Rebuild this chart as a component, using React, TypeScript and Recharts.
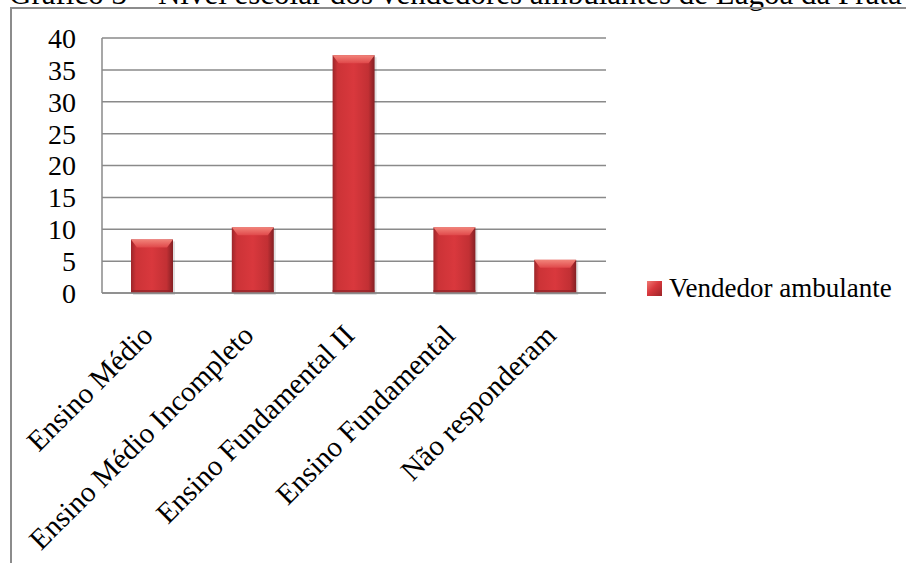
import React from 'react';
import { BarChart, Bar, XAxis, YAxis, CartesianGrid, Legend } from 'recharts';

// ── data ────────────────────────────────────────────────────
const categories = [
  'Ensino Médio',
  'Ensino Médio Incompleto',
  'Ensino Fundamental II',
  'Ensino Fundamental',
  'Não responderam',
];
const vendedorValues = [8.4, 10.3, 37.3, 10.3, 5.2];
const yTicks = [0, 5, 10, 15, 20, 25, 30, 35, 40];
const seriesName = 'Vendedor ambulante';
const titleText = 'Gráfico 3 – Nível escolar dos vendedores ambulantes de Lagoa da Prata';

const chartData = categories.map((name, i) => ({ name, [seriesName]: vendedorValues[i] }));

const SERIF = '"Liberation Serif", "Times New Roman", Times, serif';
const GRID = '#8a8a8a';

// bar with the Excel-like bevel
const BevelBar = ({ x, y, width, height }: any) => {
  if (!height || height <= 0) return null;
  const b = Math.min(8, height / 2);
  return (
    <g>
      <rect x={x + 2} y={y + 2} width={width} height={height} fill="rgba(0,0,0,0.12)" />
      <rect x={x} y={y} width={width} height={height} fill="url(#barBody)" />
      <polygon
        points={`${x},${y} ${x + width},${y} ${x + width - 6},${y + b} ${x + 6},${y + b}`}
        fill="url(#barTop)"
      />
      <rect x={x} y={y + height - 3} width={width} height={3} fill="#8e2428" opacity={0.7} />
    </g>
  );
};

const XTick = ({ x, y, payload }: any) => {
  const tx = x + 2;
  const ty = y + 44;
  return (
    <text
      x={tx}
      y={ty}
      transform={`rotate(-45 ${tx} ${ty})`}
      textAnchor="end"
      fontFamily={SERIF}
      fontSize={29}
      fill="#000"
    >
      {payload.value}
    </text>
  );
};

const LegendBox = () => (
  <div style={{ display: 'flex', alignItems: 'center', fontFamily: SERIF, fontSize: 27, color: '#000', whiteSpace: 'nowrap' }}>
    <span
      style={{
        display: 'inline-block', width: 15, height: 15, marginRight: 7,
        background: 'linear-gradient(135deg, #f07a74 0%, #d8383d 45%, #9c2428 100%)',
      }}
    />
    {seriesName}
  </div>
);

export default function App() {
  return (
    <div style={{ position: 'absolute', left: 0, top: 0, width: 906, height: 563, overflow: 'hidden', background: '#fff' }}>
      <div
        style={{
          position: 'absolute', left: 9, top: -22, fontFamily: SERIF, fontSize: 31,
          lineHeight: '31px', whiteSpace: 'nowrap', color: '#000',
        }}
      >
        {titleText}
      </div>
      <div
        style={{
          position: 'absolute', left: 10, top: 7, width: 1000, height: 1000,
          borderTop: '2px solid #8c8c8c', borderLeft: '2px solid #8c8c8c',
        }}
      />
      <div style={{ position: 'absolute', left: 0, top: 0 }}>
        <BarChart
          width={906}
          height={563}
          data={chartData}
          margin={{ top: 38, right: 300, bottom: 0, left: 0 }}
          barSize={42}
        >
          <defs>
            <linearGradient id="barBody" x1="0" y1="0" x2="1" y2="0">
              <stop offset="0%" stopColor="#9c262a" />
              <stop offset="12%" stopColor="#cc3337" />
              <stop offset="50%" stopColor="#d9383d" />
              <stop offset="85%" stopColor="#c23034" />
              <stop offset="100%" stopColor="#842024" />
            </linearGradient>
            <linearGradient id="barTop" x1="0" y1="0" x2="0" y2="1">
              <stop offset="0%" stopColor="#f2847a" />
              <stop offset="100%" stopColor="#e0484a" />
            </linearGradient>
          </defs>
          <CartesianGrid horizontal vertical={false} stroke={GRID} strokeWidth={1.5} />
          <XAxis
            dataKey="name"
            height={270}
            interval={0}
            tickLine={false}
            tickSize={0}
            tickMargin={0}
            axisLine={{ stroke: GRID, strokeWidth: 1.5 }}
            tick={<XTick />}
          />
          <YAxis
            width={102}
            domain={[0, 40]}
            ticks={yTicks}
            interval={0}
            tickLine={false}
            tickSize={0}
            tickMargin={26}
            axisLine={{ stroke: GRID, strokeWidth: 1.5 }}
            tick={{ fill: '#000', fontSize: 28, fontFamily: SERIF }}
          />
          <Legend
            verticalAlign="middle"
            align="center"
            layout="horizontal"
            content={<LegendBox />}
            wrapperStyle={{ position: 'absolute', left: 647, top: 273, width: 'auto' }}
          />
          <Bar dataKey={seriesName} shape={<BevelBar />} isAnimationActive={false} />
        </BarChart>
      </div>
    </div>
  );
}
